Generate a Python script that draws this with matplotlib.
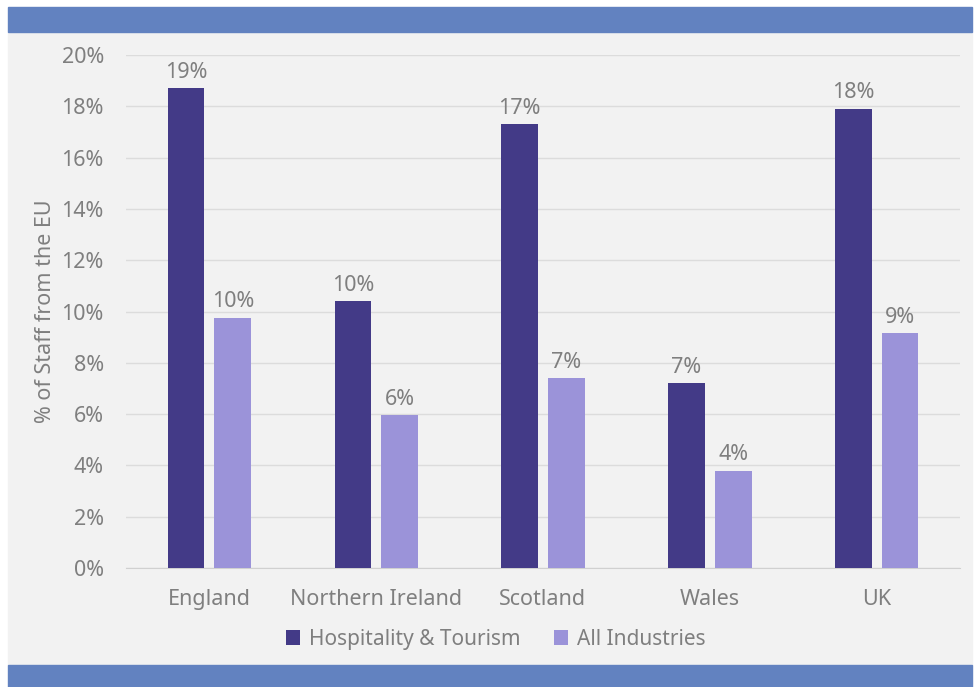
import numpy as np
import matplotlib.pyplot as plt
from matplotlib.patches import Rectangle

regions = ["England", "Northern Ireland", "Scotland", "Wales", "UK"]
hospitality = [18.7, 10.4, 17.3, 7.2, 17.9]
all_industries = [9.75, 5.95, 7.4, 3.8, 9.15]
hosp_labels = ["19%", "10%", "17%", "7%", "18%"]
all_labels = ["10%", "6%", "7%", "4%", "9%"]

DARK = "#433a87"
LIGHT = "#9b93d9"
BAND = "#6282c0"
TEXT = "#7f7f7f"
FS = 15.5


def main():
    plt.rcParams['font.family'] = ['Noto Sans', 'DejaVu Sans']

    fig = plt.figure(figsize=(9.74, 6.87), dpi=100, facecolor="white")
    # grey panel with blue bands top and bottom (drawn behind the axes)
    fig.patches.append(Rectangle((8 / 974, 22 / 687), 964 / 974, 633 / 687,
                                 transform=fig.transFigure, color="#f2f2f2", zorder=-2))
    fig.patches.append(Rectangle((8 / 974, 655 / 687), 964 / 974, 25 / 687,
                                 transform=fig.transFigure, color=BAND, zorder=-2))
    fig.patches.append(Rectangle((8 / 974, 0), 964 / 974, 22 / 687,
                                 transform=fig.transFigure, color=BAND, zorder=-2))

    ax = fig.add_axes([126 / 974, (687 - 568) / 687, 834 / 974, 513 / 687])
    ax.set_facecolor("none")

    x = np.arange(len(regions))
    w = 0.22
    off = 0.14
    b1 = ax.bar(x - off, hospitality, w, color=DARK, zorder=3, label="Hospitality & Tourism")
    b2 = ax.bar(x + off, all_industries, w, color=LIGHT, zorder=3, label="All Industries")
    ax.bar_label(b1, labels=hosp_labels, padding=4, color=TEXT, fontsize=FS)
    ax.bar_label(b2, labels=all_labels, padding=4, color=TEXT, fontsize=FS)

    ax.set_xlim(-0.5, len(regions) - 0.5)
    ax.set_ylim(0, 20)
    ax.set_yticks(np.arange(0, 21, 2))
    ax.set_yticklabels([f"{v}%" for v in range(0, 21, 2)])
    ax.set_xticks(x)
    ax.set_xticklabels(regions)
    ax.tick_params(axis="both", length=0, colors=TEXT, labelsize=FS)
    ax.tick_params(axis="y", pad=16)
    ax.tick_params(axis="x", pad=15)
    ax.grid(axis="y", color="#dcdcdc", linewidth=1, zorder=0)
    for s in ["top", "right", "left"]:
        ax.spines[s].set_visible(False)
    ax.spines["bottom"].set_color("#d0d0d0")
    ax.set_ylabel("% of Staff from the EU", color=TEXT, fontsize=FS, labelpad=4)

    ax.legend(loc="upper center", bbox_to_anchor=(0.443, -0.082), ncol=2, frameon=False,
              fontsize=15, labelcolor=TEXT, handlelength=0.7, handleheight=0.7,
              handletextpad=0.4, columnspacing=1.6)

    fig.savefig("out.png", dpi=100, facecolor="white")


if __name__ == '__main__':
    main()
